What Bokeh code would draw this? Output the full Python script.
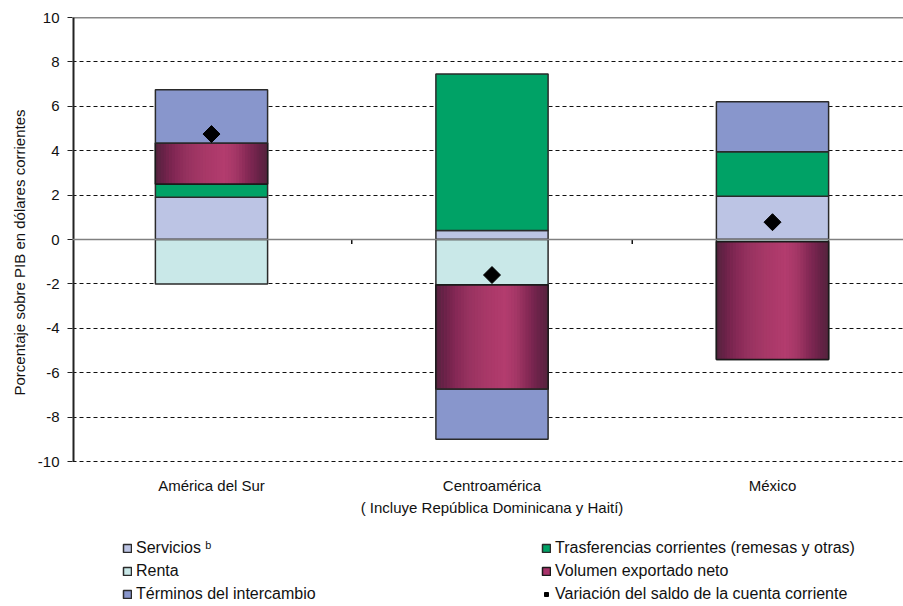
from bokeh.plotting import figure
from bokeh.models import (Range1d, FixedTicker, Span, Legend, LegendItem, ColumnDataSource, Title)
from bokeh.core.properties import value
from bokeh.embed import file_html
from bokeh.resources import INLINE
import numpy as np

# ---------------- data ----------------
categories = ["América del Sur", "Centroamérica\n( Incluye República Dominicana y Haití)", "México"]
servicios = [1.9, 0.4, 1.95]
renta = [-2.0, -2.05, -0.1]
trasferencias = [0.6, 7.05, 2.0]
volumen = [1.85, -4.7, -5.3]
terminos = [2.4, -2.25, 2.25]
variacion = [4.75, -1.6, 0.78]

series_names = ["Servicios ᵇ", "Renta", "Trasferencias corrientes (remesas y otras)",
                "Volumen exportado neto", "Términos del intercambio"]
series_values = [servicios, renta, trasferencias, volumen, terminos]
series_colors = ["#BCC4E4", "#C9E8E8", "#00A266", "#A8336A", "#8896CC"]
variacion_name = "Variación del saldo de la cuenta corriente"
y_axis_title = "Porcentaje sobre PIB en dólares corrientes"

y_ticks = [-10, -8, -6, -4, -2, 0, 2, 4, 6, 8, 10]
y_tick_labels = ["-10", "-8", "-6", "-4", "-2", "0", "2", "4", "6", "8", "10"]
Y_MIN, Y_MAX = -10, 10

# ---------------- layout constants ----------------
FONT = "Liberation Sans"
BAR_W = 0.4
PX_PER_UNIT = 22.2           # vertical scale of the value axis
BOTTOM_SPACE_PX = 145        # room under the value axis for category labels and legend
Y_FRAME_BOTTOM = Y_MIN - BOTTOM_SPACE_PX / PX_PER_UNIT
X_START, X_END = -0.4955, 2.467

x = np.arange(len(categories))

p = figure(frame_width=831, frame_height=589, output_backend="svg", toolbar_location=None,
           x_range=Range1d(X_START, X_END), y_range=Range1d(Y_FRAME_BOTTOM, Y_MAX),
           min_border_left=72, min_border_right=0, min_border_top=17, min_border_bottom=0)
p.outline_line_color = None
p.background_fill_color = "white"

# grid
p.xgrid.grid_line_color = None
p.ygrid.ticker = FixedTicker(ticks=y_ticks)
p.ygrid.grid_line_color = "#111111"
p.ygrid.grid_line_dash = "4 3"
p.ygrid.grid_line_width = 1

# stacking (positive and negative separately)
pos = np.zeros(len(categories))
neg = np.zeros(len(categories))
renderers = {}
for name, vals, col in zip(series_names, series_values, series_colors):
    v = np.array(vals, dtype=float)
    bottom = np.where(v >= 0, pos, neg)
    top = bottom + v
    pos = np.where(v >= 0, top, pos)
    neg = np.where(v < 0, top, neg)
    src = ColumnDataSource(dict(x=x, top=top, bottom=bottom))
    if name.startswith("Volumen"):
        base = p.vbar(x="x", top="top", bottom="bottom", width=BAR_W, source=src,
                      fill_color=col, line_color="#1a1a1a", line_width=1.5)
        renderers[name] = base
        # gradient strips
        stops_t = [0.0, 0.08, 0.18, 0.3, 0.45, 0.62, 0.72, 0.82, 0.92, 1.0]
        stops_c = [(0x55, 0x24, 0x3E), (0x6A, 0x22, 0x48), (0x85, 0x28, 0x55), (0x98, 0x33, 0x60),
                   (0xA8, 0x38, 0x68), (0xB3, 0x3C, 0x6E), (0xA4, 0x37, 0x66), (0x86, 0x29, 0x56),
                   (0x68, 0x22, 0x47), (0x55, 0x24, 0x3E)]
        N = 40
        for i in range(N):
            t = (i + 0.5) / N
            rgb = [int(round(np.interp(t, stops_t, [c[k] for c in stops_c]))) for k in range(3)]
            colr = "#%02x%02x%02x" % tuple(rgb)
            off = -BAR_W / 2 + (i + 0.5) * BAR_W / N
            s2 = ColumnDataSource(dict(x=x + off, top=top, bottom=bottom))
            p.vbar(x="x", top="top", bottom="bottom", width=BAR_W / N * 1.15, source=s2,
                   fill_color=colr, line_color=None)
        p.vbar(x="x", top="top", bottom="bottom", width=BAR_W, source=src,
               fill_color=None, line_color="#1a1a1a", line_width=1.5)
    else:
        r = p.vbar(x="x", top="top", bottom="bottom", width=BAR_W, source=src,
                   fill_color=col, line_color="#2a2a2a", line_width=1.5)
        renderers[name] = r

# zero line and top line
p.add_layout(Span(location=0, dimension="width", line_color="#808080", line_width=1.5))
p.add_layout(Span(location=Y_MAX, dimension="width", line_color="#111111", line_width=1.5))

# value-axis line (only over the value range)
p.segment(x0=[X_START], x1=[X_START], y0=[Y_MIN], y1=[Y_MAX], line_color="#222222", line_width=4)

# category separators on the zero line
sep_x = (x[:-1] + x[1:]) / 2
p.segment(x0=sep_x, x1=sep_x, y0=np.zeros(len(sep_x)), y1=np.full(len(sep_x), -0.2),
          line_color="#111111", line_width=1.5)

# diamonds
dsrc = ColumnDataSource(dict(x=x, y=variacion))
rd = p.scatter(x="x", y="y", source=dsrc, marker="square", angle=np.pi / 4, size=12,
               fill_color="black", line_color="black")

# category labels under the value range
lsrc = ColumnDataSource(dict(x=x, y=np.full(len(x), Y_MIN - 15 / PX_PER_UNIT), text=categories))
p.text(x="x", y="y", text="text", source=lsrc, text_font=value(FONT), text_font_size="15px",
       text_color="#111111", text_align="center", text_baseline="top", text_line_height=1.3)

# y axis
yax = p.yaxis[0]
yax.ticker = FixedTicker(ticks=y_ticks)
yax.major_label_overrides = {t: l for t, l in zip(y_ticks, y_tick_labels)}
yax.major_label_text_font = FONT
yax.major_label_text_font_size = "15px"
yax.major_label_text_color = "#111111"
yax.major_label_standoff = 8
yax.axis_line_color = None
yax.major_tick_in = 0
yax.major_tick_out = 5
yax.major_tick_line_color = "#222222"
yax.minor_tick_line_color = None
p.xaxis.visible = False

ytitle = Title(text=y_axis_title, align="left", offset=211, vertical_align="bottom",
               standoff=14, text_font=FONT, text_font_size="15px", text_font_style="normal",
               text_color="#111111")
p.add_layout(ytitle, "left")

# legend
items = [LegendItem(label=series_names[0], renderers=[renderers[series_names[0]]]),
         LegendItem(label=series_names[1], renderers=[renderers[series_names[1]]]),
         LegendItem(label=series_names[4], renderers=[renderers[series_names[4]]]),
         LegendItem(label=series_names[2], renderers=[renderers[series_names[2]]]),
         LegendItem(label=series_names[3], renderers=[renderers[series_names[3]]]),
         LegendItem(label=variacion_name, renderers=[rd])]
legend = Legend(items=items, orientation="vertical", nrows=3, location=(50, 3))
legend.label_text_font = FONT
legend.label_text_font_size = "16px"
legend.label_text_color = "#111111"
legend.glyph_width = 10
legend.glyph_height = 10
legend.label_standoff = 4
legend.label_width = 401
legend.label_height = 19
legend.spacing = 4
legend.padding = 0
legend.margin = 0
legend.border_line_color = None
legend.background_fill_alpha = 0
p.add_layout(legend, "center")

open("out.html", "w").write(file_html(p, INLINE))
